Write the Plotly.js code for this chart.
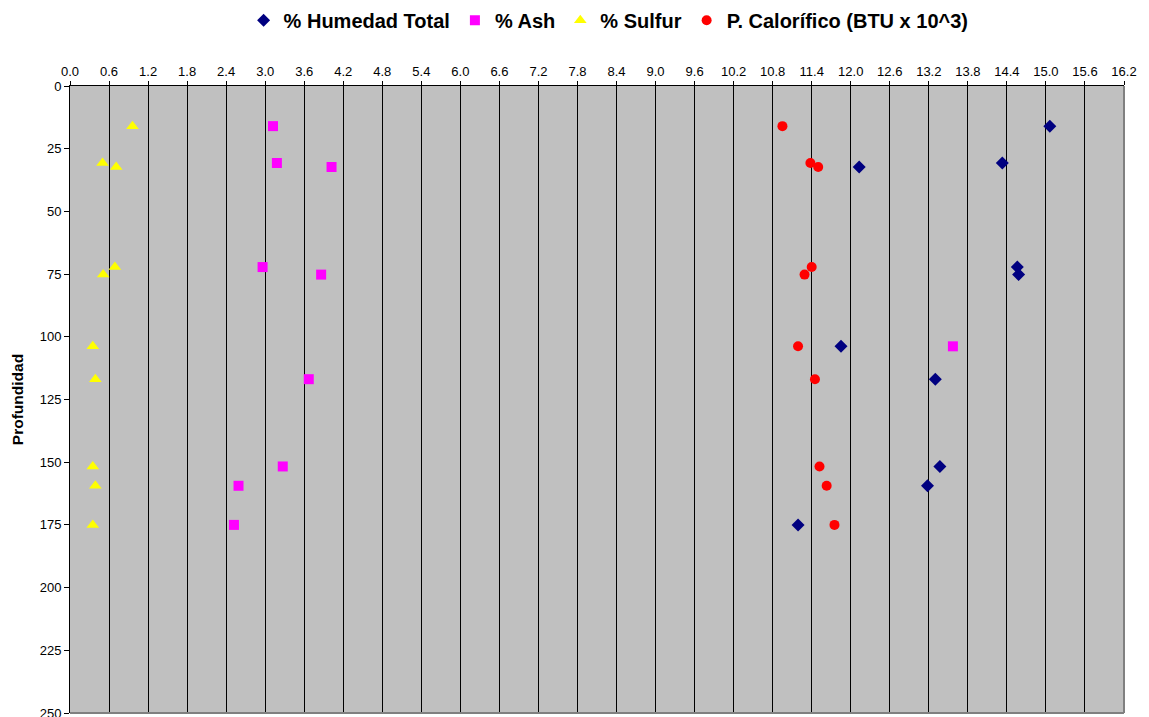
<!DOCTYPE html>
<html>
<head>
<meta charset="utf-8">
<script src="https://cdn.plot.ly/plotly-3.0.1.min.js"></script>
<style>html,body{margin:0;padding:0;background:#fff;}#chart{width:1149px;height:717px;}</style>
</head>
<body>
<div id="chart"></div>
<script>
// Depths (Profundidad) for each sample
const depth = [16, 30.7, 32.3, 72.2, 75.2, 103.8, 116.9, 151.7, 159.4, 175];
// Series values
const humedad = [15.06, 14.33, 12.13, 14.56, 14.58, 11.85, 13.30, 13.37, 13.18, 11.19];
const ash = [3.12, 3.18, 4.02, 2.96, 3.86, 13.57, 3.67, 3.27, 2.59, 2.52];
const sulfur = [0.96, 0.50, 0.71, 0.69, 0.51, 0.35, 0.39, 0.35, 0.39, 0.35];
const calorifico = [10.95, 11.38, 11.50, 11.40, 11.29, 11.19, 11.45, 11.52, 11.63, 11.75];
const seriesNames = ['% Humedad Total', '% Ash', '% Sulfur', 'P. Calorífico (BTU x 10^3)'];
// X tick values
const xTicks = [0.0,0.6,1.2,1.8,2.4,3.0,3.6,4.2,4.8,5.4,6.0,6.6,7.2,7.8,8.4,9.0,9.6,10.2,10.8,11.4,12.0,12.6,13.2,13.8,14.4,15.0,15.6,16.2];
const yTicks = [0,25,50,75,100,125,150,175,200,225,250];

const traces = [
  {x: humedad, y: depth, name: '<b>' + seriesNames[0] + '</b>', mode: 'markers', type: 'scatter',
   marker: {symbol: 'diamond', color: '#000080', size: 10}},
  {x: ash, y: depth, name: '<b>' + seriesNames[1] + '</b>', mode: 'markers', type: 'scatter',
   marker: {symbol: 'square', color: '#FF00FF', size: 10}},
  {x: sulfur, y: depth, name: '<b>' + seriesNames[2] + '</b>', mode: 'markers', type: 'scatter',
   marker: {symbol: 'triangle-up', color: '#FFFF00', size: 11}},
  {x: calorifico, y: depth, name: '<b>' + seriesNames[3] + '</b>', mode: 'markers', type: 'scatter',
   marker: {symbol: 'circle', color: '#FF0000', size: 10}}
];

const layout = {
  width: 1149, height: 717,
  margin: {l: 70, r: 25, t: 86, b: 4},
  paper_bgcolor: '#ffffff',
  plot_bgcolor: '#C0C0C0',
  font: {family: 'Liberation Sans, Arial, sans-serif', color: '#000', size: 13},
  showlegend: true,
  legend: {orientation: 'h', x: 0.511, xanchor: 'center', y: 0.999, yref: 'container', yanchor: 'top',
           font: {size: 20, family: 'Liberation Sans, Arial, sans-serif'},
           itemwidth: 10, tracegroupgap: 0, bgcolor: 'rgba(0,0,0,0)'},
  xaxis: {
    side: 'top', range: [0, 16.2], tickvals: xTicks, ticktext: xTicks.map(v => v.toFixed(1)),
    showgrid: true, gridcolor: '#000000', gridwidth: 1,
    showline: true, linecolor: '#000000', linewidth: 1,
    ticks: 'outside', ticklen: 4, tickcolor: '#000', zeroline: false,
    tickfont: {size: 13}, ticklabeloverflow: 'allow'
  },
  yaxis: {
    range: [250, 0], tickvals: yTicks, showgrid: false,
    showline: true, linecolor: '#000000', linewidth: 1,
    ticks: 'outside', ticklen: 5, tickcolor: '#000', zeroline: false,
    tickfont: {size: 13}, ticklabeloverflow: 'allow',
    title: {text: '<b>Profundidad</b>', font: {size: 15.5}, standoff: 12}
  },
  shapes: [
    {type: 'line', xref: 'paper', yref: 'paper', x0: 1, x1: 1, y0: 0, y1: 1, line: {color: '#808080', width: 2}},
    {type: 'line', xref: 'paper', yref: 'paper', x0: 0, x1: 1, y0: 0, y1: 0, line: {color: '#808080', width: 2}}
  ]
};

Plotly.newPlot('chart', traces, layout, {displayModeBar: false, staticPlot: true});
</script>
</body>
</html>
